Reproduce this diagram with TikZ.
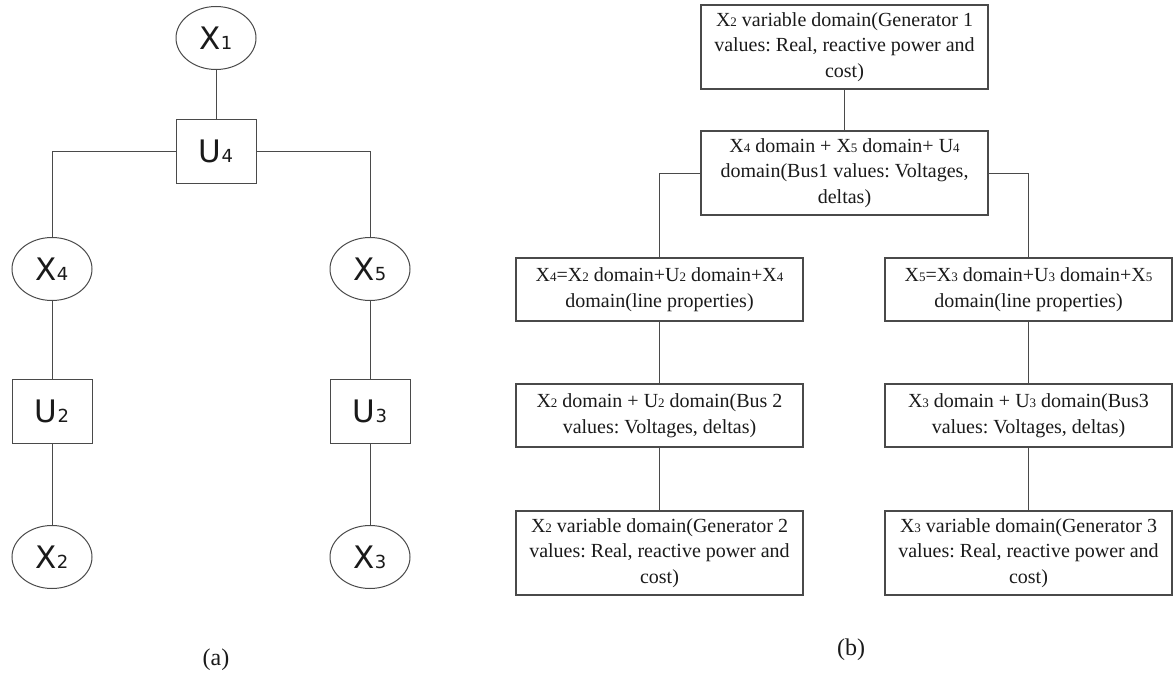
\documentclass[tikz,border=0pt]{standalone}
\usepackage{fontspec}
\setmainfont{Liberation Serif}
\newfontfamily\treefont{DejaVu Sans}
\usetikzlibrary{shapes.geometric}
\frenchspacing

\definecolor{linegray}{HTML}{4A4A4A}
\definecolor{inkgray}{HTML}{1A1A1A}

% small index digit sitting on the baseline (domain boxes)
\newcommand\ldx[1]{{\fontsize{13}{13}\selectfont #1}}
% variable / factor label of the tree, e.g. X with index 1
\newcommand\tlab[2]{{\treefont\fontsize{31}{31}\selectfont #1{\fontsize{18}{18}\selectfont #2}}}

\tikzset{
  wire/.style={draw=linegray, line width=1pt},
  varnode/.style={ellipse, draw=linegray, line width=1pt, minimum width=80pt,
    minimum height=63pt, inner sep=0pt, text=inkgray},
  facnode/.style={rectangle, draw=linegray, line width=1pt, minimum width=80pt,
    minimum height=64pt, inner sep=0pt, text=inkgray},
  domainbox/.style={rectangle, draw=linegray, line width=1.2pt, minimum width=287pt,
    align=center, inner xsep=4pt, inner ysep=0pt, text=inkgray,
    font=\fontsize{20}{25.5}\selectfont},
  tallbox/.style={minimum height=84pt},
  shortbox/.style={minimum height=63pt},
  caption/.style={text=inkgray, font=\fontsize{24}{24}\selectfont},
}

\begin{document}
\begin{tikzpicture}[x=1pt, y=-1pt]
  \fill[white] (0,0) rectangle (1176,677);
  \useasboundingbox (0,0) rectangle (1176,677);

  % ---- (a) factor tree ----
  \node[varnode] (x1) at (216,38)  {\tlab{X}{1}};
  \node[facnode] (u4) at (216,151) {\tlab{U}{4}};
  \node[varnode] (x4) at (52,269)  {\tlab{X}{4}};
  \node[varnode] (x5) at (370,269) {\tlab{X}{5}};
  \node[facnode] (u2) at (52,411)  {\tlab{U}{2}};
  \node[facnode] (u3) at (370,411) {\tlab{U}{3}};
  \node[varnode] (x2) at (52,557)  {\tlab{X}{2}};
  \node[varnode] (x3) at (370,557) {\tlab{X}{3}};

  \draw[wire] (x1) -- (u4);
  \draw[wire] (u4.west) -| (x4.north);
  \draw[wire] (u4.east) -| (x5.north);
  \draw[wire] (x4) -- (u2);
  \draw[wire] (u2) -- (x2);
  \draw[wire] (x5) -- (u3);
  \draw[wire] (u3) -- (x3);

  \node[caption] (capa) at (216,660) {(a)};

  % ---- (b) domain tree ----
  \node[domainbox, tallbox] (gen1) at (844.5,47)
    {X\ldx{2} variable domain(Generator 1\\ values: Real, reactive power and\\ cost)};
  \node[domainbox, tallbox] (bus1) at (844.5,173)
    {X\ldx{4} domain + X\ldx{5} domain+ U\ldx{4}\\ domain(Bus1 values: Voltages,\\ deltas)};

  \node[domainbox, shortbox] (line4) at (659.5,289.5)
    {X\ldx{4}=X\ldx{2} domain+U\ldx{2} domain+X\ldx{4}\\ domain(line properties)};
  \node[domainbox, shortbox] (bus2) at (659.5,415.5)
    {X\ldx{2} domain + U\ldx{2} domain(Bus 2\\ values: Voltages, deltas)};
  \node[domainbox, tallbox] (gen2) at (659.5,553)
    {X\ldx{2} variable domain(Generator 2\\ values: Real, reactive power and\\ cost)};

  \node[domainbox, shortbox] (line5) at (1028.5,289.5)
    {X\ldx{5}=X\ldx{3} domain+U\ldx{3} domain+X\ldx{5}\\ domain(line properties)};
  \node[domainbox, shortbox] (bus3) at (1028.5,415.5)
    {X\ldx{3} domain + U\ldx{3} domain(Bus3\\ values: Voltages, deltas)};
  \node[domainbox, tallbox] (gen3) at (1028.5,553)
    {X\ldx{3} variable domain(Generator 3\\ values: Real, reactive power and\\ cost)};

  \draw[wire] (gen1) -- (bus1);
  \draw[wire] (bus1.west) -| (line4.north);
  \draw[wire] (bus1.east) -| (line5.north);
  \draw[wire] (line4) -- (bus2);
  \draw[wire] (bus2) -- (gen2);
  \draw[wire] (line5) -- (bus3);
  \draw[wire] (bus3) -- (gen3);

  \node[caption] (capb) at (851,650) {(b)};
\end{tikzpicture}
\end{document}
